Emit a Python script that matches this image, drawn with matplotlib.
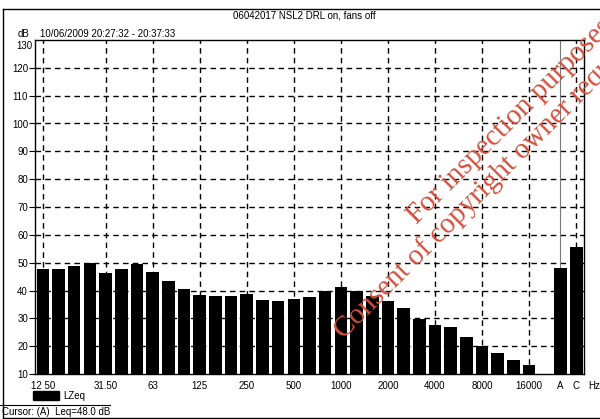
import matplotlib
matplotlib.use("Agg")
import matplotlib.pyplot as plt
from matplotlib.lines import Line2D
from matplotlib.patches import Rectangle

plt.rcParams['font.family'] = ['Liberation Sans', 'DejaVu Sans']

# 1/3-octave band levels (LZeq, dB) followed by the A and C weighted totals
bands = ["12.5", "16", "20", "25", "31.5", "40", "50", "63", "80", "100",
         "125", "160", "200", "250", "315", "400", "500", "630", "800", "1000",
         "1250", "1600", "2000", "2500", "3150", "4000", "5000", "6300", "8000",
         "10000", "12500", "16000", "20000"]
levels = [47.7, 47.7, 48.7, 50.0, 46.3, 47.9, 49.4, 46.6, 43.4, 40.5,
          38.4, 38.0, 38.0, 38.6, 36.7, 36.3, 36.8, 37.6, 39.9, 41.2,
          40.0, 37.9, 36.3, 33.7, 29.7, 27.7, 26.8, 23.2, 20.1, 17.5,
          15.0, 13.4, None]
weighted_names = ["A", "C"]
weighted_levels = [48.0, 55.5]

tick_bands = ["12.5", "31.5", "63", "125", "250", "500", "1000", "2000",
              "4000", "8000", "16000"]
tick_texts = ["12 50", "31.50", "63", "125", "250", "500", "1000", "2000",
              "4000", "8000", "16000"]
y_ticks = [10, 20, 30, 40, 50, 60, 70, 80, 90, 100, 110, 120]

title = "06042017 NSL2 DRL on, fans off"
period = "10/06/2009 20:27:32 - 20:37:33"
cursor = "Cursor: (A)  Leq=48.0 dB"

W, H = 600, 419
fig = plt.figure(figsize=(W / 100, H / 100), dpi=100)


def fx(px):
    return px / W


def fy(py):
    return 1 - py / H


ax = fig.add_axes([fx(35), fy(374), fx(584) - fx(35), fy(40) - fy(374)])

pos = list(range(len(bands)))
vals = [v if v is not None else 10 for v in levels]
ax.bar(pos, [v - 10 for v in vals], bottom=10, width=0.8, color="black",
       zorder=3)
wpos = [len(bands), len(bands) + 1]
ax.bar(wpos, [v - 10 for v in weighted_levels], bottom=10, width=0.82,
       color="black", zorder=3)

ax.set_xlim(-0.5, len(bands) + 1.5)
ax.set_ylim(10, 130)

dash = (0, (4, 3))
for y in y_ticks[1:]:
    ax.axhline(y, color="black", lw=1.0, ls=dash, zorder=1)
for b in tick_bands:
    ax.axvline(bands.index(b), color="black", lw=1.0, ls=dash, zorder=1)
ax.axvline(wpos[0], color="#777777", lw=0.8, zorder=1)
ax.axvline(wpos[1], color="black", lw=1.0, ls=dash, zorder=1)

ax.set_yticks(y_ticks)
ax.set_yticklabels([str(t) for t in y_ticks])
ax.set_xticks([bands.index(b) for b in tick_bands] + wpos)
ax.set_xticklabels(tick_texts + weighted_names)
ax.tick_params(axis="y", direction="out", length=4, width=0.8, pad=1,
               labelsize=7)
ax.tick_params(axis="x", length=0, pad=5, labelsize=7)
for s in ax.spines.values():
    s.set_linewidth(1.0)
    s.set_zorder(4)

fig.text(fx(16), fy(46), "130", fontsize=7, ha="left", va="center")
fig.text(fx(588), fy(386), "Hz", fontsize=7, ha="left", va="center")
fig.text(fx(304), fy(15), title, fontsize=7, ha="center", va="center")
fig.text(fx(18), fy(34), "dB", fontsize=7, ha="left", va="center")
fig.text(fx(40), fy(34), period, fontsize=7, ha="left", va="center")

# legend swatch
fig.add_artist(Rectangle((fx(33), fy(400)), fx(59) - fx(33), fy(391) - fy(400),
                         transform=fig.transFigure, color="black"))
fig.text(fx(63), fy(396), "LZeq", fontsize=7, ha="left", va="center")
fig.text(fx(2), fy(412), cursor, fontsize=7, ha="left", va="center")

# outer frame of the report page
frame = dict(color="black", lw=1.0, transform=fig.transFigure)
fig.add_artist(Line2D([fx(3), fx(600)], [fy(9), fy(9)], **frame))
fig.add_artist(Line2D([fx(3), fx(3)], [fy(9), fy(418)], **frame))
fig.add_artist(Line2D([fx(3), fx(600)], [fy(418), fy(418)], **frame))
fig.add_artist(Line2D([fx(0), fx(110)], [fy(405), fy(405)], color="black",
                      lw=0.8, transform=fig.transFigure))

# red stamp across the page
stamp = dict(fontsize=21, color="#d4503c", rotation=45,
             rotation_mode="anchor", ha="left", va="baseline",
             family=["Liberation Serif", "DejaVu Serif"], zorder=10)
fig.text(fx(417), fy(225), "For inspection purposes only.", **stamp)
fig.text(fx(344), fy(340),
         "Consent of copyright owner required for any other use.", **stamp)

fig.savefig("out.png", dpi=100)
